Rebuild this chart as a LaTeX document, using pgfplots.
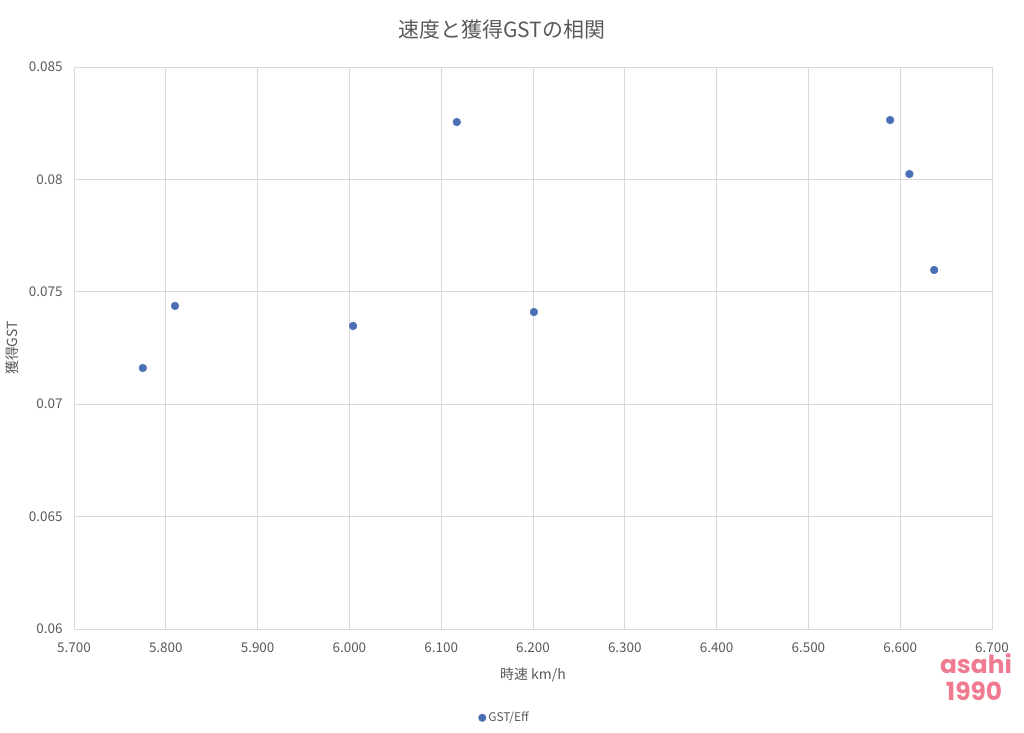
\documentclass[border=0pt]{standalone}
\usepackage{pgfplots}
\pgfplotsset{compat=1.18}
\usepackage{fontspec}
\setmainfont{Noto Sans CJK JP}
\newfontfamily\wmfont{Poppins}
\definecolor{gridc}{HTML}{D9D9D9}
\definecolor{txtc}{HTML}{595959}
\definecolor{ptc}{HTML}{4A6FB5}
\definecolor{wmc}{HTML}{F07A90}
\begin{document}
\begin{tikzpicture}[x=1bp,y=1bp]
\path[use as bounding box] (-74,-104) rectangle (950,629);
\begin{axis}[
  at={(0,0)}, anchor=south west,
  scale only axis, width=918bp, height=562bp,
  xmin=5.7, xmax=6.7, ymin=0.06, ymax=0.085,
  xtick={5.7,5.8,5.9,6.0,6.1,6.2,6.3,6.4,6.5,6.6,6.7},
  xticklabels={5.700,5.800,5.900,6.000,6.100,6.200,6.300,6.400,6.500,6.600,6.700},
  ytick={0.06,0.065,0.07,0.075,0.08,0.085},
  yticklabels={0.06,0.065,0.07,0.075,0.08,0.085},
  scaled ticks=false,
  grid=major,
  major grid style={gridc, line width=0.8bp},
  axis line style={gridc, line width=0.8bp},
  major tick length=0pt,
  tick label style={font=\fontsize{13.5}{15}\selectfont, text=txtc},
  xticklabel style={yshift=-10bp},
  yticklabel style={xshift=-8bp},
  xlabel={時速 km/h},
  ylabel={獲得GST},
  label style={font=\fontsize{14}{16}\selectfont, text=txtc},
  xlabel style={at={(0.5,0)}, anchor=center, yshift=-46bp},
  ylabel style={yshift=3bp},
  title={速度と獲得GSTの相関},
  title style={font=\fontsize{21}{24}\selectfont, text=txtc, at={(0.466,1)}, anchor=center, yshift=31bp},
  legend style={at={(0.469,-0.158)}, anchor=center, draw=none, fill=none,
    font=\fontsize{12}{14}\selectfont, text=txtc,
    legend cell align=left, inner sep=0pt},
  legend image code/.code={\fill[ptc] (0.1cm,0cm) circle (3.8bp);},
  clip=false,
]
\addplot[only marks, mark=*, mark size=3.9bp, mark options={fill=ptc, draw=ptc}]
coordinates {
(5.775,0.07161)
(5.810,0.07437)
(6.004,0.07348)
(6.117,0.08255)
(6.201,0.07410)
(6.589,0.08264)
(6.610,0.08024)
(6.637,0.07597)
};
\addlegendentry{GST/Eff}
\end{axis}
\node[text=wmc, font=\wmfont\bfseries\fontsize{25}{25}\selectfont, inner sep=0pt] at (902,-35) {asahi};
\node[text=wmc, font=\wmfont\bfseries\fontsize{25}{25}\selectfont, inner sep=0pt] at (900,-62) {1990};
\end{tikzpicture}
\end{document}
